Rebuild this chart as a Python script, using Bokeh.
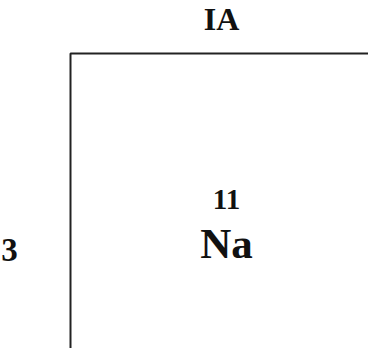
from bokeh.plotting import figure
from bokeh.models import Range1d
from bokeh.core.properties import value
from bokeh.embed import file_html
from bokeh.resources import INLINE

# Data
group_labels = ["IA"]
period_labels = ["3"]
atomic_numbers = [11]
symbols = ["Na"]

W, H = 368, 348
p = figure(width=W, height=H, output_backend="svg", toolbar_location=None,
           x_range=Range1d(8, 8 + W), y_range=Range1d(8 + H, 8),
           min_border=0, outline_line_color=None)
p.axis.visible = False
p.grid.visible = False
p.background_fill_color = "white"
p.border_fill_color = "white"

serif = value("Liberation Serif")

# cell border (left and top edges)
p.line(x=[78, 78, 376], y=[356, 61, 61], line_color="#222222", line_width=2)

# group label
p.text(x=[229], y=[26], text=group_labels, text_font=serif, text_font_style="bold",
       text_font_size="32px", text_align="center", text_baseline="middle", text_color="#111111")
# period label
p.text(x=[17], y=[257], text=period_labels, text_font=serif, text_font_style="bold",
       text_font_size="33px", text_align="center", text_baseline="middle", text_color="#111111")
# atomic number
p.text(x=[234], y=[207], text=[str(n) for n in atomic_numbers], text_font=serif, text_font_style="bold",
       text_font_size="29px", text_align="center", text_baseline="middle", text_color="#111111")
# symbol
p.text(x=[234], y=[251], text=symbols, text_font=serif, text_font_style="bold",
       text_font_size="43px", text_align="center", text_baseline="middle", text_color="#111111")

open("out.html", "w").write(file_html(p, INLINE))
